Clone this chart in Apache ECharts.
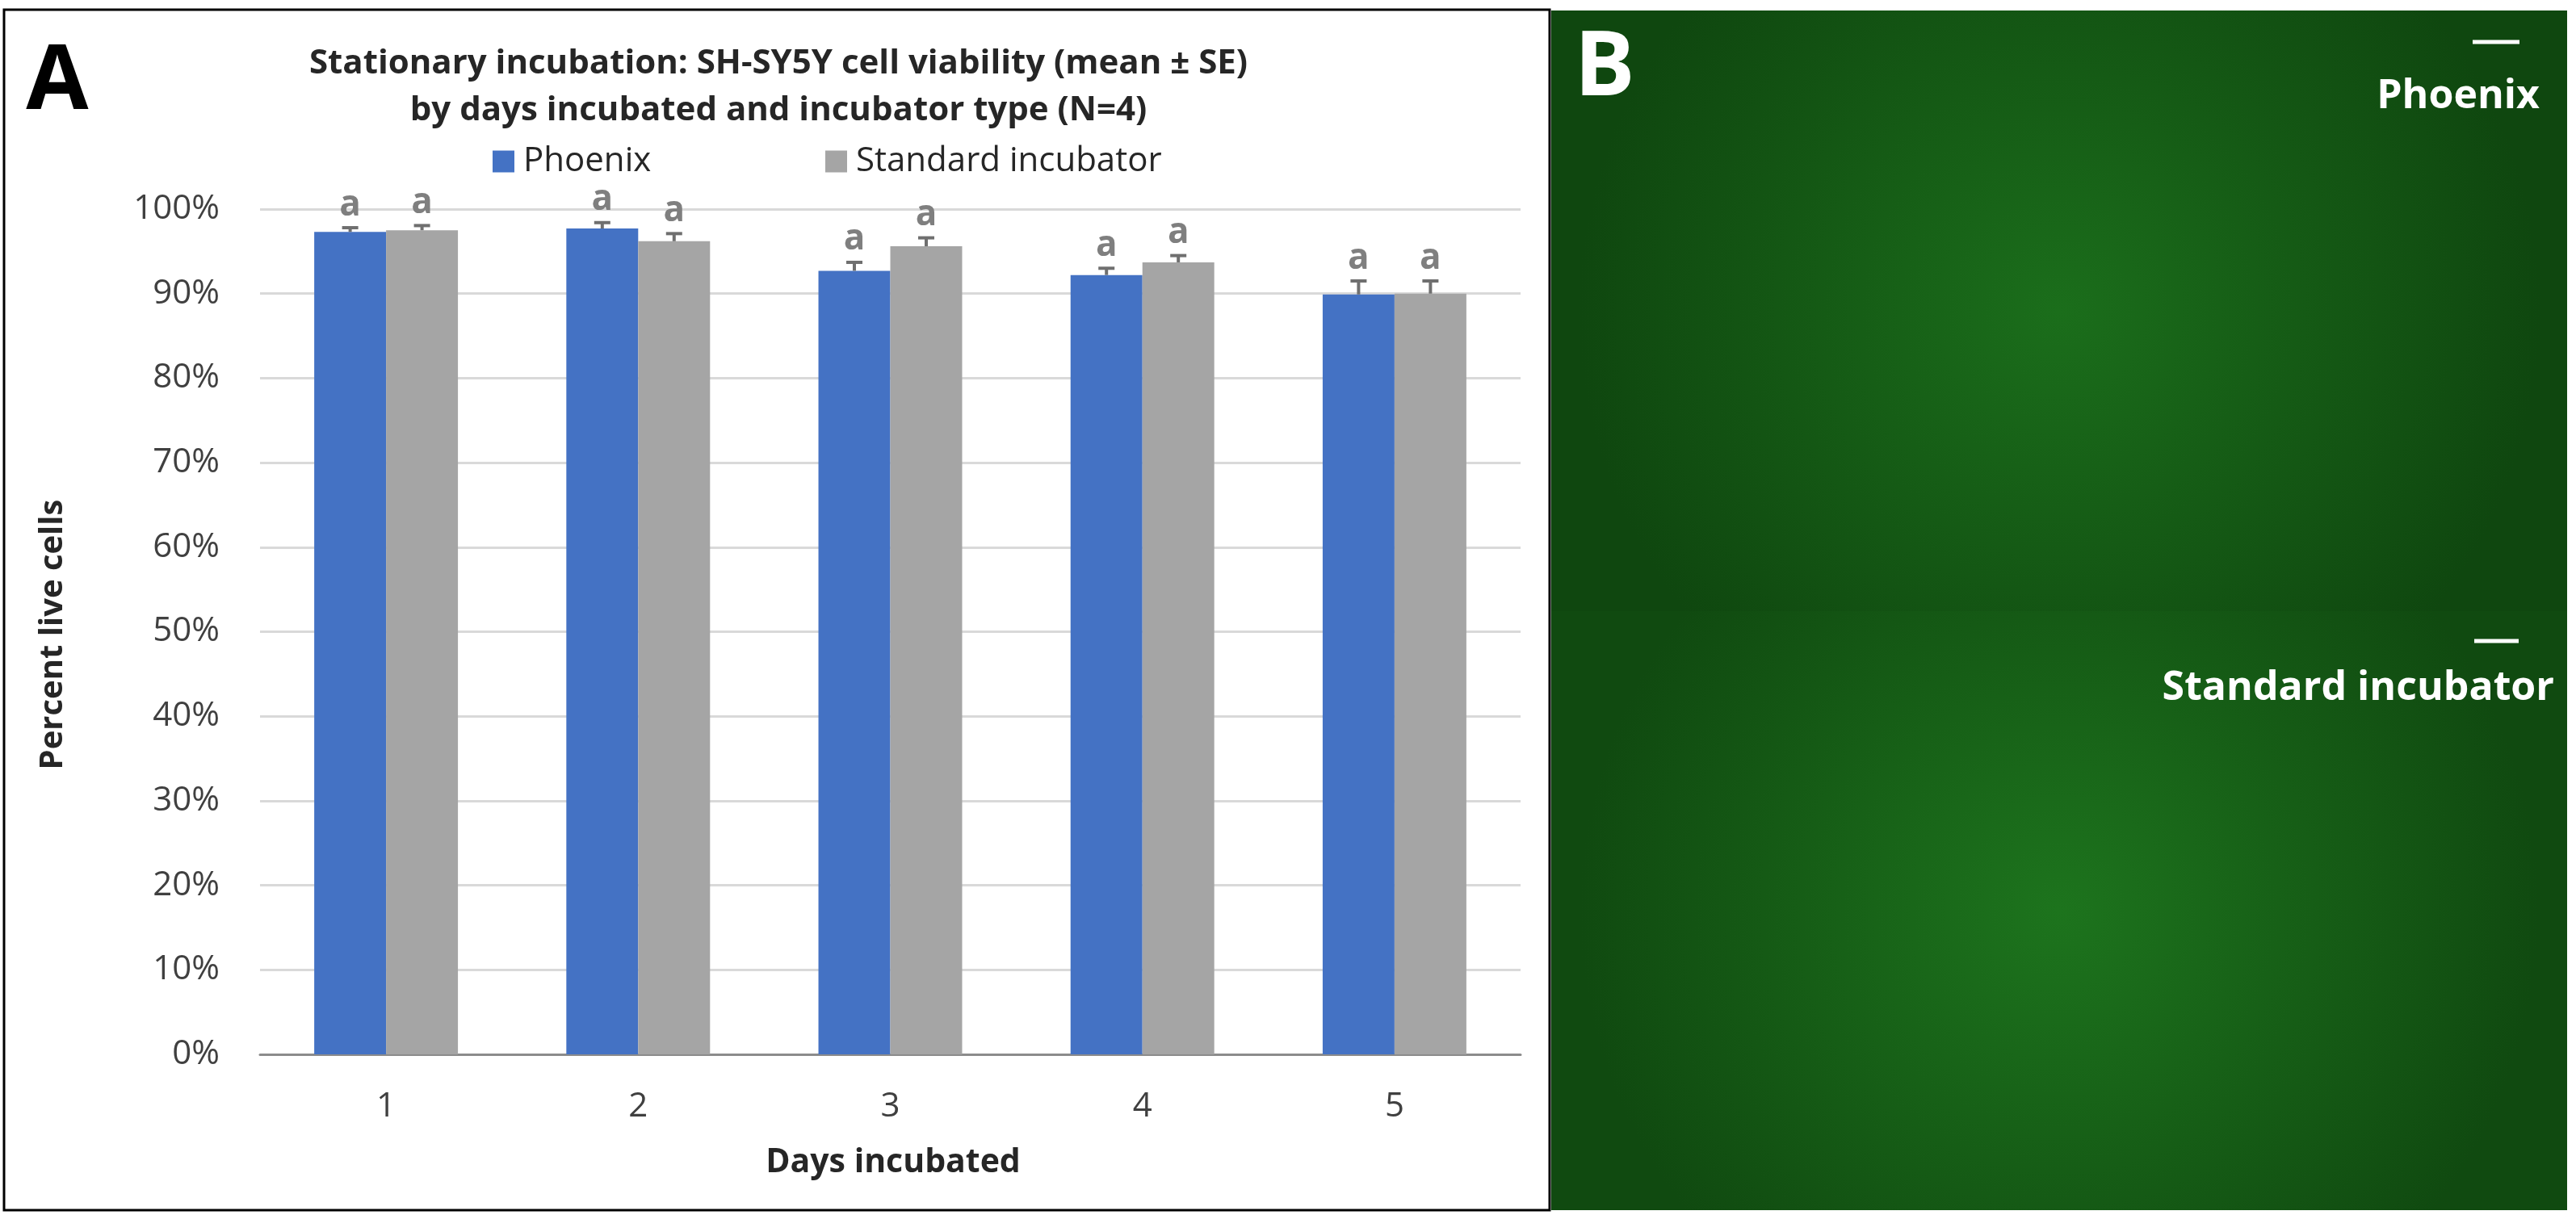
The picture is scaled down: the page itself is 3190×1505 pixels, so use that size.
<!DOCTYPE html>
<html>
<head>
<meta charset="utf-8">
<script src="https://cdn.jsdelivr.net/npm/echarts@6/dist/echarts.min.js"></script>
<style>
  html, body { margin: 0; padding: 0; background: #fff; }
  #main { width: 3190px; height: 1505px; }
</style>
</head>
<body>
<div id="main"></div>
<script>
var days = ['1', '2', '3', '4', '5'];
var phoenixMean = [97.3, 97.7, 92.7, 92.2, 89.9];
var phoenixSE = [0.5, 0.7, 1.0, 0.8, 1.6];
var standardMean = [97.5, 96.2, 95.6, 93.7, 90.0];
var standardSE = [0.55, 0.9, 1.0, 0.8, 1.5];
var phoenixLetters = ['a', 'a', 'a', 'a', 'a'];
var standardLetters = ['a', 'a', 'a', 'a', 'a'];

var myChart = echarts.init(document.getElementById('main'));

// style
var style = {
    font: 'Open Sans',
    textColor: '#262626',
    tickColor: '#404040',
    blue: '#4472c4',
    gray: '#a5a5a5',
    errColor: '#6f6f6f',
    letterColor: '#7f7f7f'
};
var catGap = 0.43;

function errData(mean, se, letters) {
    var res = [];
    for (var i = 0; i < mean.length; i++) {
        res.push([i, mean[i], se[i], letters[i]]);
    }
    return res;
}

// error bar (plus only) + letter above it
function errRender(side) {
    return function (params, api) {
        var cat = api.value(0);
        var mean = api.value(1);
        var se = api.value(2);
        var band = api.size([1, 0])[0];
        var barW = band * (1 - catGap) / 2;
        var off = side * barW / 2;
        var base = api.coord([cat, mean]);
        var top = api.coord([cat, mean + se]);
        var x = base[0] + off;
        return {
            type: 'group',
            children: [{
                type: 'line',
                shape: { x1: x, y1: base[1], x2: x, y2: top[1] },
                style: { stroke: style.errColor, lineWidth: 4 }
            }, {
                type: 'line',
                shape: { x1: x - 10, y1: top[1], x2: x + 10, y2: top[1] },
                style: { stroke: style.errColor, lineWidth: 4 }
            }, {
                type: 'text',
                x: x,
                y: top[1] - 6,
                style: {
                    text: api.value(3),
                    textAlign: 'center',
                    textVerticalAlign: 'bottom',
                    fill: style.letterColor,
                    font: 'bold 44px "Open Sans"'
                }
            }]
        };
    };
}

var option = {
    animation: false,
    textStyle: { fontFamily: style.font },
    grid: { left: 322, right: 1307, top: 259, bottom: 199 },
    legend: [{
        data: ['Phoenix'],
        left: 605, top: 174,
        icon: 'rect', itemWidth: 27, itemHeight: 27,
        textStyle: { fontSize: 42, color: style.textColor, padding: [0, 0, 0, 6] }
    }, {
        data: ['Standard incubator'],
        left: 1017, top: 174,
        icon: 'rect', itemWidth: 27, itemHeight: 27,
        textStyle: { fontSize: 42, color: style.textColor, padding: [0, 0, 0, 6] }
    }],
    xAxis: {
        type: 'category',
        data: days,
        axisTick: { show: false },
        axisLine: { lineStyle: { color: '#8c8c8c', width: 3 } },
        axisLabel: { fontSize: 42, color: style.tickColor, margin: 44 }
    },
    yAxis: {
        type: 'value',
        min: 0, max: 100, interval: 10,
        axisLine: { show: false },
        axisTick: { show: false },
        splitLine: { lineStyle: { color: '#d9d9d9', width: 3 } },
        axisLabel: { fontSize: 42, color: style.tickColor, margin: 50, formatter: '{value}%' }
    },
    graphic: {
        elements: [
            {
                type: 'rect', z: -10,
                shape: { x: 5, y: 12, width: 1914, height: 1487 },
                style: { fill: '#fff', stroke: '#000', lineWidth: 3 }
            },
            {
                type: 'text', x: 71, y: 103,
                style: { text: 'A', font: 'bold 112px "Open Sans"', fill: '#000', textAlign: 'center', textVerticalAlign: 'middle' }
            },
            {
                type: 'text', x: 964, y: 108,
                style: {
                    text: 'Stationary incubation: SH-SY5Y cell viability (mean ± SE)\nby days incubated and incubator type (N=4)',
                    font: 'bold 42px "Open Sans"', lineHeight: 58, fill: style.textColor,
                    textAlign: 'center', textVerticalAlign: 'middle'
                }
            },
            {
                type: 'text', x: 66, y: 786, rotation: Math.PI / 2,
                style: { text: 'Percent live cells', font: 'bold 40px "Open Sans"', fill: style.textColor, textAlign: 'center', textVerticalAlign: 'middle' }
            },
            {
                type: 'text', x: 1106, y: 1440,
                style: { text: 'Days incubated', font: 'bold 41px "Open Sans"', fill: style.textColor, textAlign: 'center', textVerticalAlign: 'middle' }
            },
            // panel B: micrograph placeholder
            {
                type: 'rect', z: -10,
                shape: { x: 1921, y: 13, width: 1258, height: 744 },
                style: {
                    fill: { type: 'radial', x: 0.5, y: 0.5, r: 0.8, colorStops: [
                        { offset: 0, color: '#1b6e1b' }, { offset: 1, color: '#0f470f' }] }
                }
            },
            {
                type: 'rect', z: -10,
                shape: { x: 1921, y: 757, width: 1258, height: 742 },
                style: {
                    fill: { type: 'radial', x: 0.5, y: 0.5, r: 0.8, colorStops: [
                        { offset: 0, color: '#1d741d' }, { offset: 1, color: '#104a10' }] }
                }
            },
            {
                type: 'text', x: 1987, y: 86,
                style: { text: 'B', font: 'bold 112px "Open Sans"', fill: '#fff', textAlign: 'center', textVerticalAlign: 'middle' }
            },
            {
                type: 'line',
                shape: { x1: 3062, y1: 52, x2: 3120, y2: 52 },
                style: { stroke: '#fff', lineWidth: 5 }
            },
            {
                type: 'text', x: 3145, y: 120,
                style: { text: 'Phoenix', font: 'bold 50px "Open Sans"', fill: '#fff', textAlign: 'right', textVerticalAlign: 'middle' }
            },
            {
                type: 'line',
                shape: { x1: 3064, y1: 794, x2: 3119, y2: 794 },
                style: { stroke: '#fff', lineWidth: 5 }
            },
            {
                type: 'text', x: 3163, y: 853,
                style: { text: 'Standard incubator', font: 'bold 50px "Open Sans"', fill: '#fff', textAlign: 'right', textVerticalAlign: 'middle' }
            }
        ]
    },
    series: [
        {
            name: 'Phoenix', type: 'bar', data: phoenixMean,
            barGap: '0%', barCategoryGap: '43%',
            itemStyle: { color: style.blue }
        },
        {
            name: 'Standard incubator', type: 'bar', data: standardMean,
            barGap: '0%', barCategoryGap: '43%',
            itemStyle: { color: style.gray }
        },
        {
            type: 'custom', z: 5,
            renderItem: errRender(-1),
            data: errData(phoenixMean, phoenixSE, phoenixLetters)
        },
        {
            type: 'custom', z: 5,
            renderItem: errRender(1),
            data: errData(standardMean, standardSE, standardLetters)
        }
    ]
};
myChart.setOption(option);
</script>
</body>
</html>
